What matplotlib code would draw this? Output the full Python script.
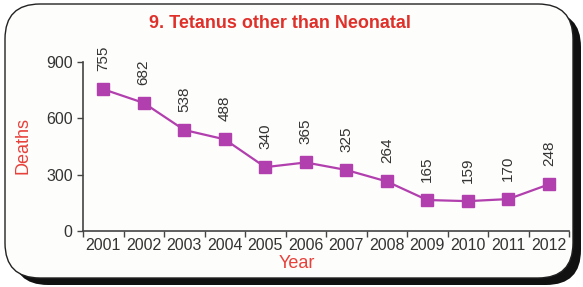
import matplotlib.pyplot as plt
from matplotlib.patches import FancyBboxPatch

plt.rcParams['font.family'] = ['Liberation Sans', 'DejaVu Sans']

# data
years = ['2001', '2002', '2003', '2004', '2005', '2006',
         '2007', '2008', '2009', '2010', '2011', '2012']
deaths = [755, 682, 538, 488, 340, 365, 325, 264, 165, 159, 170, 248]
y_ticks = [0, 300, 600, 900]

line_col = '#b23fae'
red = '#e8403a'

fig = plt.figure(figsize=(5.83, 2.87), dpi=100)
fig.patch.set_facecolor('white')

# shadow + rounded frame
W, H = 583, 287
shadow = FancyBboxPatch((13 / W, 2 / H), 568 / W, 273 / H,
                        boxstyle='round,pad=0,rounding_size=0.06',
                        transform=fig.transFigure, facecolor='#111111',
                        edgecolor='none', mutation_aspect=W / H, zorder=-2)
frame = FancyBboxPatch((5 / W, 9 / H), 568 / W, 274 / H,
                       boxstyle='round,pad=0,rounding_size=0.06',
                       transform=fig.transFigure, facecolor='#fdfdfb',
                       edgecolor='#222222', linewidth=1.0,
                       mutation_aspect=W / H, zorder=-1)
fig.patches.extend([shadow, frame])

ax = fig.add_axes([83 / W, (H - 231) / H, (569 - 83) / W, (231 - 62) / H])
ax.set_facecolor('none')
ax.set_zorder(2)

x = list(range(len(years)))
ax.plot(x, deaths, '-s', color=line_col, linewidth=1.6, markersize=9,
        markeredgecolor=line_col, clip_on=False, zorder=3)

for xi, v in zip(x, deaths):
    ax.annotate(str(v), xy=(xi, v), xytext=(0, 13), textcoords='offset points',
                rotation=90, ha='center', va='bottom', fontsize=11,
                color='#333333', annotation_clip=False)

ax.set_xlim(-0.5, len(years) - 0.5)
ax.set_ylim(0, 900)
ax.set_yticks(y_ticks)
ax.set_xticks(x)
ax.set_xticklabels(years)
ax.set_xticks([i - 0.5 for i in range(len(years) + 1)], minor=True)
ax.tick_params(axis='x', which='major', length=0, labelsize=11.5,
               colors='#333333', pad=5)
ax.tick_params(axis='x', which='minor', length=4, width=1, color='#444444')
ax.tick_params(axis='y', length=4, width=1, color='#444444',
               labelsize=11.5, labelcolor='#333333')

for s in ['top', 'right']:
    ax.spines[s].set_visible(False)
for s in ['left', 'bottom']:
    ax.spines[s].set_color('#444444')
    ax.spines[s].set_linewidth(1.2)

ax.set_ylabel('Deaths', color=red, fontsize=13)
ax.yaxis.set_label_coords((23 - 83) / 486, (231 - 146) / 169)
ax.set_xlabel('Year', color=red, fontsize=13)
ax.xaxis.set_label_coords((297 - 83) / 486, (231 - 264) / 169)
ax.xaxis.label.set_va('center')
ax.yaxis.label.set_va('center')

fig.text(280 / W, 1 - 24 / H, '9. Tetanus other than Neonatal', color='#e0302a',
         fontsize=13, fontweight='bold', ha='center', va='center')

fig.savefig('out.png', dpi=100)
